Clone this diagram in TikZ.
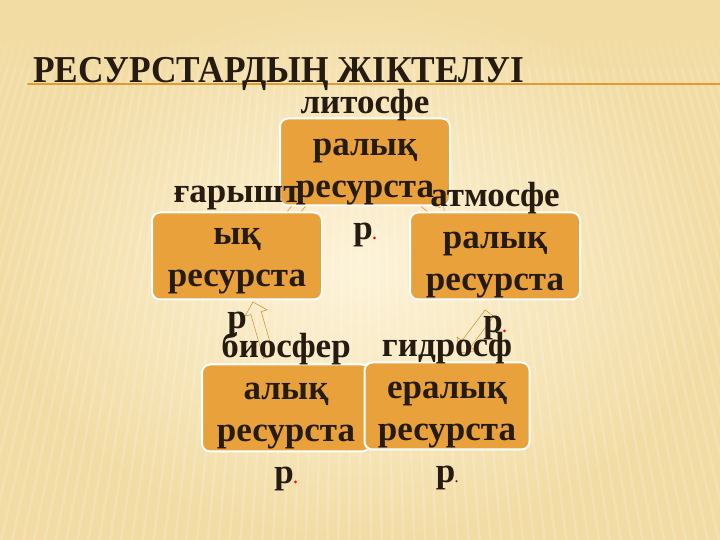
\documentclass[tikz,border=0pt]{standalone}
\usepackage{fontspec}
\setmainfont{Liberation Serif}
\usetikzlibrary{shapes.arrows,calc}
\pgfdeclarelayer{back}
\pgfdeclarelayer{mid}
\pgfsetlayers{back,mid,main}
\definecolor{boxorange}{HTML}{E9A23B}
\definecolor{rulecol}{HTML}{E39A2E}
\definecolor{inkcol}{HTML}{261B10}
\definecolor{creamin}{HTML}{FDF3D8}
\definecolor{creamout}{HTML}{F2DCA4}
\tikzset{
  resbox/.style={draw=white,line width=2pt,fill=boxorange,rounded corners=8pt,minimum width=170pt,minimum height=87pt},
  restext/.style={align=center,text=inkcol,font=\bfseries\fontsize{35}{42}\selectfont},
  blockarr/.style={single arrow,draw=rulecol!90!black,line width=0.5pt,inner sep=5pt,minimum width=23pt,single arrow head extend=6pt}
}
\newcommand{\rdot}{{\fontsize{16}{16}\selectfont\textcolor{red}{.}}}
\newcommand{\kdot}{{\fontsize{12}{12}\selectfont.}}
\begin{document}
\begin{tikzpicture}[x=1pt,y=1pt,line cap=round,line join=round]
		\begin{pgfonlayer}{back}
		\shade[inner color=creamin,outer color=creamout] (0,0) rectangle (720,540);
		\begin{scope}
		\clip (0,0) rectangle (720,470);
		\foreach \i in {-70,...,70}
		  \draw [white,opacity=0.16,line width=2.5pt] (360,1600)-- (360+\i*11,-20);
		\end{scope}
		\begin{scope}
		\clip (0,470) rectangle (720,495);
		\foreach \i in {-70,...,70}
		  \draw [white,opacity=0.07,line width=2.5pt] (360,1600)-- (360+\i*11,-20);
		\end{scope}
		\end{pgfonlayer}
		\useasboundingbox (0,0) rectangle (720,540);
		% title
		\draw [rulecol,line width=2pt] (28,456)-- (720,456);
		\node [anchor=base west,text=inkcol,xscale=0.93,font=\bfseries\fontsize{38}{38}\selectfont] (title) at (30,457) {РЕСУРСТАРДЫҢ ЖІКТЕЛУІ};
		% boxes
		\node [resbox] (lito) at (365,378) {};
		\node [resbox] (garysh) at (237,284) {};
		\node [resbox] (atmos) at (495,284) {};
		\node [resbox,minimum width=168pt] (bio) at (286,132) {};
		\node [resbox,minimum width=165pt] (gidro) at (447,134) {};
		% texts
		\node [restext] (litot) at ($(lito.center)+(0,-6)$) {литосфе\\ралық\\ресурста\\р\rdot};
		\node [restext] (garysht) at ($(garysh.center)+(0,-5)$) {ғарышт\\ық\\ресурста\\р};
		\node [restext] (atmost) at ($(atmos.center)+(0,-5)$) {атмосфе\\ралық\\ресурста\\р\rdot};
		\node [restext] (biot) at ($(bio.center)+(0,-4)$) {биосфер\\алық\\ресурста\\р\rdot};
		\node [restext] (gidrot) at ($(gidro.center)+(0,-5)$) {гидросф\\ералық\\ресурста\\р\kdot};
		% arrows
		\begin{pgfonlayer}{mid}
		\node [blockarr,minimum height=40pt,rotate=50] (arrTL) at ($(garysh.north east)!0.5!(lito.south west)+(-3,2)$) {};
		\node [blockarr,minimum height=36pt,rotate=-39] (arrTR) at ($(lito.south east)!0.5!(atmos.north west)+(-1,3)$) {};
		\node [blockarr,minimum height=50pt,rotate=233] (arrBR) at ($(atmos.south)!0.5!(gidro.north)+(5,0)$) {};
		\node [blockarr,minimum height=57pt,rotate=106] (arrBL) at ($(bio.north)!0.5!(garysh.south)+(0,0)$) {};
		\end{pgfonlayer}
		\end{tikzpicture}
\end{document}
